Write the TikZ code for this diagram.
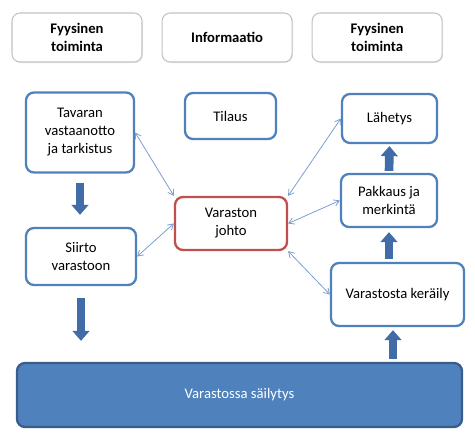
\documentclass[tikz,border=0pt]{standalone}
\usepackage{fontspec}
\setmainfont{Carlito}
\usepackage{tikz}
\usetikzlibrary{positioning, arrows.meta, shadows}
\definecolor{boxblue}  {RGB}{79, 129, 189}
\definecolor{darkblue} {RGB}{56, 93, 138}
\definecolor{flowblue} {RGB}{66, 108, 168}
\definecolor{linkblue} {RGB}{125, 158, 206}
\definecolor{hubred}   {RGB}{192, 80, 77}
\definecolor{headgray} {RGB}{195, 195, 195}
\tikzset{
  % Header box
  head/.style={
    rectangle, rounded corners=6pt,
    minimum width=97.5pt, minimum height=36.75pt,
    fill=white, draw=headgray, line width=0.8pt,
    drop shadow={opacity=0.15, shadow xshift=0.8pt, shadow yshift=-0.8pt},
    font=\fontsize{11pt}{13.5pt}\selectfont\bfseries, align=center, text=black
  },
  % Process box
  block/.style={
    rectangle, rounded corners=6pt,
    fill=white, draw=boxblue, line width=1.7pt,
    font=\fontsize{11pt}{13.5pt}\selectfont, align=center, text=black
  },
  % Control box
  hub/.style={block, draw=hubred},
  % Storage box
  store/.style={
    rectangle, rounded corners=6pt,
    minimum width=333.75pt, minimum height=48pt,
    fill=boxblue, draw=darkblue, line width=1.7pt,
    font=\fontsize{11pt}{13.5pt}\selectfont, text=white
  },
  % Information link
  link/.style={{Straight Barb[length=4pt,width=5pt]}-{Straight Barb[length=4pt,width=5pt]},
    line width=0.6pt, color=linkblue},
  % Material flow arrow
  flow/.style={-{Triangle[length=7.5pt,width=12.5pt]}, line width=6.5pt, color=flowblue},
}
\begin{document}
\begin{tikzpicture}[x=0.75pt, y=-0.75pt, node distance=0.5cm and 14.25pt]
  \useasboundingbox (0,0) rectangle (475,435);
  \node[head] at (77,37.5) (h1) {Fyysinen\\toiminta};
  \node[head, right=of h1] (h2) {Informaatio};
  \node[head, right=of h2] (h3) {Fyysinen\\toiminta};

  \node[block, minimum width=81pt, minimum height=60pt] at (80,132.5) (tav) {Tavaran\\vastaanotto\\ja tarkistus};
  \node[block, minimum width=82.5pt, minimum height=42.75pt] at (81,256.5) (siirto) {Siirto\\varastoon};
  \node[block, minimum width=68.25pt, minimum height=34.5pt] at (230.5,116) (tilaus) {Tilaus};
  \node[hub, minimum width=84pt, minimum height=39.75pt] at (231,223.5) (johto) {Varaston\\johto};
  \node[block, minimum width=71.25pt, minimum height=36.75pt] at (389.5,118.5) (lah) {Lähetys};
  \node[block, minimum width=72pt, minimum height=39.75pt] at (389,200.5) (pak) {Pakkaus ja\\merkintä};
  \node[block, minimum width=99.75pt, minimum height=47.25pt] at (397.5,294.5) (ker) {Varastosta keräily};
  \node[store] at (239.5,395) (sail) {Varastossa säilytys};

  \draw[link] (tav.east) -- (johto.north west);
  \draw[link] (siirto.east) -- (johto.west);
  \draw[link] (johto.north east) -- (lah.west);
  \draw[link] (johto.east) -- (pak.west);
  \draw[link] (johto.south east) -- (ker.west);

  \draw[flow, shorten <=6.75pt, shorten >=9pt] (tav.south) -- (tav.south |- siirto.north);
  \draw[flow, shorten <=9pt, shorten >=15.75pt] (siirto.south) -- (siirto.south |- sail.north);
  \draw[flow, shorten <=2.25pt, shorten >=2.25pt] (sail.north -| 393,0) -- (ker.south -| 393,0);
  \draw[flow, shorten <=2.25pt, shorten >=3pt] (ker.north -| pak.south) -- (pak.south);
  \draw[flow, shorten <=1.5pt, shorten >=1.5pt] (pak.north) -- (lah.south);
\end{tikzpicture}
\end{document}
